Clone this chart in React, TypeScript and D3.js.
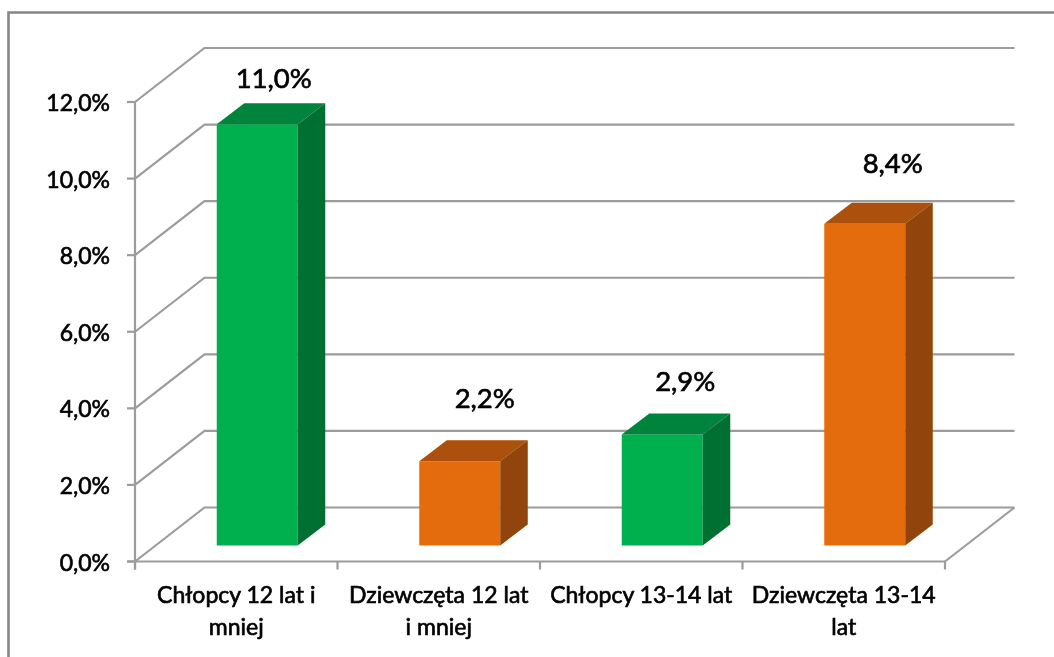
import React from "react";
import * as d3 from "d3";

const categories = [
  ["Chłopcy 12 lat i", "mniej"],
  ["Dziewczęta 12 lat", "i mniej"],
  ["Chłopcy 13-14 lat"],
  ["Dziewczęta 13-14", "lat"],
];
const values = [11.0, 2.2, 2.9, 8.4];
const valueLabels = ["11,0%", "2,2%", "2,9%", "8,4%"];
const tickValues = [0, 2, 4, 6, 8, 10, 12];
const tickLabels = ["0,0%", "2,0%", "4,0%", "6,0%", "8,0%", "10,0%", "12,0%"];

const faces = [
  { front: "#00B050", top: "#00843C", side: "#007033" },
  { front: "#E46C0A", top: "#AC5108", side: "#914407" },
  { front: "#00B050", top: "#00843C", side: "#007033" },
  { front: "#E46C0A", top: "#AC5108", side: "#914407" },
];

// layout
const W = 1054, H = 657;
const x0 = 135, x1 = 945, yBase = 561.5, yTop = 102;
const wallDx = 69.5, wallDy = -54;
const barDx = 27.5, barDy = -21;
const barFloorShift = 16; // front of bars sits this far above the axis floor
const barW = 81;
const barShift = 21;
const labelNudge: [number, number][] = [[16.5, -15], [25, -32], [23, -22], [28, -30]];
const GRID = "#9c9c9c";
const FONT = "Lato, Carlito, sans-serif";
const textStyle = { stroke: "#000", strokeWidth: 0.65, fill: "#000" };

export default function App() {
  const x = d3.scaleBand<number>().domain(categories.map((_, i) => i)).range([x0, x1]).paddingInner(0).paddingOuter(0);
  const y = d3.scaleLinear().domain([0, 12]).range([yBase, yTop]);
  const line = d3.line();
  const tickXs = d3.range(categories.length + 1).map((i) => x0 + i * x.step());

  return (
    <svg width={W} height={H} style={{ position: "absolute", left: 0, top: 0, background: "#fff" }}>
      <defs>
        <filter id="soft" x="-2%" y="-2%" width="104%" height="104%">
          <feGaussianBlur stdDeviation="0.55" />
        </filter>
      </defs>
      <g filter="url(#soft)">
        <path d={line([[8.5, H], [8.5, 12.5], [W, 12.5]]) || ""} fill="none" stroke="#858585" strokeWidth={2.6} />

        {tickValues.map((t) => (
          <path
            key={`g${t}`}
            d={line([[x0, y(t)], [x0 + wallDx, y(t) + wallDy], [x1 + wallDx, y(t) + wallDy]]) || ""}
            fill="none"
            stroke={GRID}
            strokeWidth={2.2}
          />
        ))}
        <path d={line([[x1, yBase], [x1 + wallDx, yBase + wallDy]]) || ""} fill="none" stroke={GRID} strokeWidth={2.2} />
        <path d={line([[x0, yTop], [x0, yBase + 8]]) || ""} stroke={GRID} strokeWidth={2.2} fill="none" />
        <path d={line([[x0 - 8, yBase], [x1, yBase]]) || ""} stroke={GRID} strokeWidth={2.2} fill="none" />
        {tickValues.map((t) => (
          <path key={`t${t}`} d={line([[x0 - 8, y(t)], [x0, y(t)]]) || ""} stroke={GRID} strokeWidth={2.2} fill="none" />
        ))}
        {tickXs.map((tx) => (
          <path key={`x${tx}`} d={line([[tx, yBase], [tx, yBase + 8]]) || ""} stroke={GRID} strokeWidth={2.2} fill="none" />
        ))}

        {values.map((v, i) => {
          const l = (x(i) as number) + (x.bandwidth() - barW) / 2 + barShift;
          const r = l + barW;
          const b = yBase - barFloorShift;
          const t = y(v) - barFloorShift;
          const f = faces[i];
          return (
            <g key={i}>
              <rect x={l} y={t} width={barW} height={b - t} fill={f.front} />
              <path d={line([[l, t], [l + barDx, t + barDy], [r + barDx, t + barDy], [r, t]]) + "Z"} fill={f.top} />
              <path d={line([[r, t], [r + barDx, t + barDy], [r + barDx, b + barDy], [r, b]]) + "Z"} fill={f.side} />
              <text
                x={(l + r) / 2 + labelNudge[i][0]}
                y={t + barDy + labelNudge[i][1]}
                textAnchor="middle"
                fontFamily={FONT}
                fontSize={27.5}
                {...textStyle}
              >
                {valueLabels[i]}
              </text>
            </g>
          );
        })}

        {tickValues.map((t, i) => (
          <text key={`l${t}`} x={110} y={y(t) + 9} textAnchor="end" fontFamily={FONT} fontSize={23} {...textStyle}>
            {tickLabels[i]}
          </text>
        ))}

        {categories.map((lines, i) =>
          lines.map((s, j) => (
            <text
              key={`${i}-${j}`}
              x={(x(i) as number) + x.bandwidth() / 2}
              y={603 + j * 32}
              textAnchor="middle"
              fontFamily={FONT}
              fontSize={23}
              {...textStyle}
            >
              {s}
            </text>
          ))
        )}
      </g>
    </svg>
  );
}
